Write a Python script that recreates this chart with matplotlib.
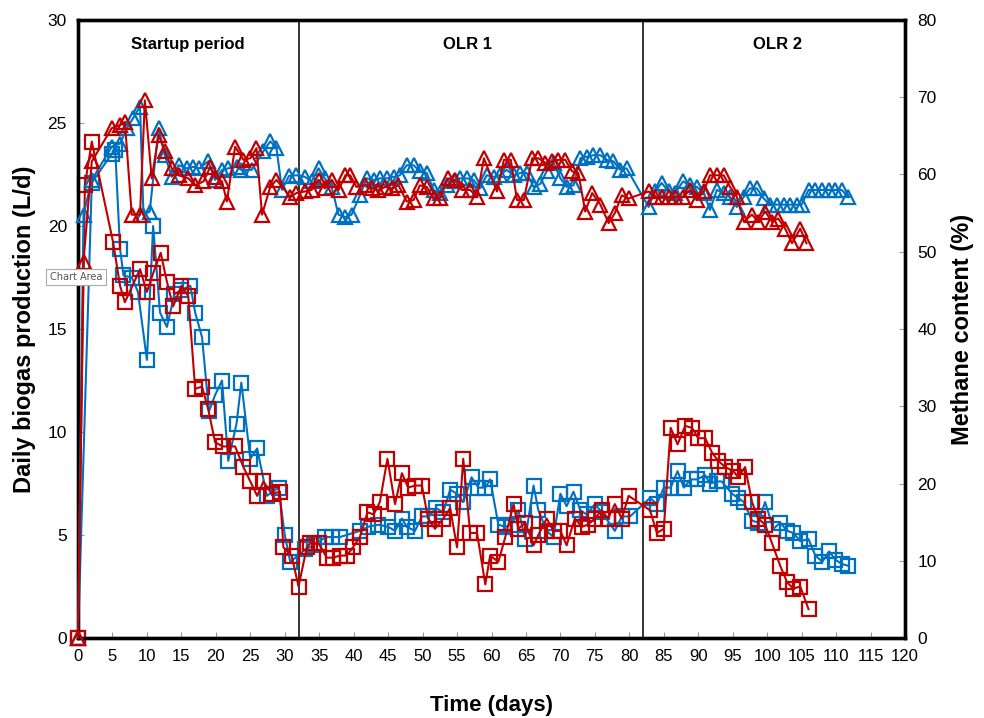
import matplotlib
matplotlib.use("Agg")
import matplotlib.pyplot as plt

plt.rcParams['font.family'] = ['Liberation Sans', 'DejaVu Sans']

# ---------------- data ----------------
# Biogas (L/d), reactor A (blue squares)
bio_a_day = [0, 2, 4.9, 5.4, 6.1, 6.6, 7.8, 8.7, 10, 10.9, 11.9, 12.9, 14, 15, 16.3, 17, 18, 19, 19.9, 20.9,
             21.8, 23, 23.7, 25, 26, 27.4, 29.1, 30, 30.8, 33, 34.2, 35.9, 36.8, 38, 40.9, 42.1, 43.6, 45, 46,
             47, 47.7, 48.9, 49.9, 50.8, 52, 53, 54, 55, 55.9, 57.1, 58.1, 59.1, 59.8, 61, 62, 62.9, 63.9,
             64.9, 66.1, 66.8, 68, 69, 70, 70.9, 71.9, 72.9, 73.8, 75, 76, 77.9, 78.9, 80.1, 83, 84, 85, 86,
             87, 87.9, 88.9, 89.8, 91, 91.7, 92.7, 93.4, 94.9, 95.8, 96.6, 97.8, 98.7, 99.7, 100.9, 101.9,
             102.9, 103.8, 104.8, 106, 107, 108, 109, 109.9, 110.8, 111.8]
bio_a = [0, 22.1, 23.5, 23.7, 18.9, 17.6, 17.5, 16.8, 13.5, 20.0, 15.8, 15.1, 16.7, 16.9, 17.1, 15.8, 14.6, 11.0, 11.8, 12.5,
         8.6, 10.4, 12.4, 8.7, 9.2, 6.9, 7.3, 5.0, 3.7, 4.3, 4.5, 4.9, 4.9, 4.9, 5.2, 5.4, 5.5, 5.4, 5.2,
         5.8, 5.4, 5.2, 5.9, 5.9, 6.3, 6.1, 7.2, 7.0, 6.6, 7.8, 7.3, 7.3, 7.7, 5.5, 5.4, 5.5, 6.2,
         4.8, 7.4, 6.2, 5.2, 4.9, 7.0, 6.4, 7.1, 6.2, 6.0, 6.5, 6.1, 5.2, 5.9, 5.9, 6.8, 6.5, 7.3, 7.3,
         8.1, 7.3, 7.7, 7.7, 7.9, 7.5, 7.6, 7.6, 7.0, 6.8, 6.6, 5.7, 5.6, 6.6, 5.3, 5.6,
         5.2, 5.1, 4.7, 4.8, 4.0, 3.7, 4.2, 3.8, 3.6, 3.5]

# Biogas (L/d), reactor B (red squares)
bio_b_day = [0, 1, 2, 5.1, 6.1, 6.8, 9, 10, 10.9, 12, 12.9, 13.8, 15, 16, 17, 18, 18.9, 19.9, 21, 22.8,
             24, 25, 26, 26.9, 28.1, 29.3, 29.8, 31, 32, 33.2, 33.7, 34.9, 36.1, 37, 38, 39, 39.9, 40.9,
             42, 42.9, 43.8, 44.9, 46, 47, 47.9, 48.9, 49.9, 50.8, 51.8, 53, 54, 55, 55.9, 56.9, 57.9,
             59.1, 59.8, 61, 62, 63.2, 63.9, 64.9, 66.1, 66.8, 68, 69, 70, 70.9, 72.1, 73.1, 74, 75, 76,
             76.9, 77.9, 78.9, 79.9, 83, 84, 85, 86, 87, 88.1, 89.1, 90, 91, 92, 92.9, 93.9, 95.1, 95.8,
             96.8, 97.8, 98.7, 99.7, 100.7, 101.9, 102.9, 103.8, 104.8, 106]
bio_b = [0, 22.0, 24.1, 19.2, 17.1, 16.3, 17.9, 16.8, 17.7, 18.7, 17.3, 16.1, 17.1, 16.6, 12.1, 12.2, 11.1, 9.5, 9.3, 9.3,
         8.3, 7.6, 6.9, 7.6, 7.0, 7.1, 4.4, 4.0, 2.5, 4.4, 4.6, 4.6, 3.9, 3.9, 4.0, 4.0, 4.4, 4.9,
         6.1, 6.0, 6.6, 8.7, 6.5, 8.0, 7.3, 7.4, 7.4, 5.8, 5.3, 5.8, 6.3, 4.4, 8.7, 5.1, 5.1,
         2.6, 4.0, 3.7, 4.9, 6.5, 5.3, 5.6, 4.5, 5.0, 5.8, 5.2, 5.2, 4.5, 5.8, 5.4, 5.5, 5.8, 6.2,
         5.8, 6.5, 5.8, 6.9, 6.2, 5.1, 5.3, 10.2, 9.4, 10.3, 10.2, 9.7, 9.7, 9.0, 8.6, 8.3, 8.1, 7.8,
         8.3, 6.6, 5.8, 5.5, 4.6, 3.5, 2.7, 2.4, 2.5, 1.4]

# Methane content (%), reactor A (blue triangles)
ch4_a_day = [0, 0.8, 2, 4.9, 6.1, 7.1, 8, 9, 9.5, 10.4, 11.7, 12.6, 13.6, 14.6, 15.8, 16.7, 17.6, 18.9, 19.9,
             20.9, 21.8, 23, 23.7, 25.2, 26.9, 27.9, 28.8, 29.6, 30.6, 31.7, 32.9, 33.9, 34.9, 35.8, 36.8,
             37.8, 38.8, 39.7, 40.9, 41.9, 42.9, 43.8, 44.8, 45.8, 46.7, 47.7, 48.7, 49.6, 50.6, 51.6,
             52.5, 53.5, 54.5, 55.4, 56.4, 57.4, 58.3, 59.3, 60.3, 61.2, 62.2, 63.2, 64.2, 65.1, 66.1,
             67.1, 68, 69, 70, 70.9, 71.9, 72.9, 73.8, 74.8, 75.8, 76.7, 77.7, 78.7, 79.6, 82.8, 83.7,
             84.7, 85.7, 86.6, 87.8, 88.8, 89.8, 90.8, 91.7, 92.7, 93.7, 94.6, 95.6, 96.6, 97.5, 98.5,
             99.5, 100.4, 101.4, 102.4, 103.3, 104.3, 105, 106, 107, 107.9, 108.9, 109.9, 110.8, 111.8]
ch4_a = [0, 54.8, 59.3, 63.6, 64.0, 66.0, 67.3, 68.8, 54.8, 55.2, 66.0, 62.5, 59.7, 61.2, 60.8, 61.0, 60.8, 61.7, 59.3,
         60.6, 60.8, 61.0, 60.6, 60.6, 63.0, 64.3, 63.4, 58.0, 59.8, 59.9, 59.7, 59.1, 60.8, 59.5, 58.4,
         54.8, 54.5, 54.8, 57.3, 59.5, 59.3, 59.5, 59.5, 59.7, 59.9, 61.2, 61.2, 60.4, 60.2, 58.0,
         57.6, 58.6, 59.1, 59.5, 59.5, 59.3, 58.2, 59.9, 59.7, 59.9, 60.6, 59.9, 60.2, 60.2, 58.4,
         58.8, 60.4, 61.5, 59.5, 58.4, 58.6, 62.1, 62.3, 62.5, 62.5, 61.9, 61.7, 60.6, 60.8, 55.8, 57.8,
         58.9, 57.8, 57.6, 59.1, 58.6, 58.4, 57.6, 55.4, 58.0, 57.6, 57.1, 55.8, 57.1, 58.2, 58.2,
         56.9, 56.1, 56.1, 56.1, 56.1, 56.1, 56.1, 58.0, 58.0, 58.0, 58.0, 58.0, 58.0, 57.1]

# Methane content (%), reactor B (red triangles)
ch4_b_day = [0, 0.8, 2, 4.9, 6.1, 6.8, 7.8, 9, 9.7, 10.7, 11.7, 12.6, 13.6, 14.6, 16, 17, 18.2, 19.2, 19.9,
             20.9, 21.6, 22.8, 24, 25, 25.9, 26.7, 27.9, 28.8, 30.8, 31.7, 32.9, 33.9, 34.9, 35.8, 36.8,
             37.8, 38.8, 39.5, 40.4, 41.7, 42.6, 43.6, 44.6, 45.5, 46.5, 47.7, 48.7, 49.6, 50.6, 51.6,
             52.5, 53.7, 54.7, 55.7, 56.9, 57.9, 58.9, 60.8, 61.8, 62.8, 63.7, 64.7, 65.9, 66.8, 67.8,
             68.8, 69.7, 70.7, 71.7, 72.6, 73.6, 74.6, 75.8, 77, 77.9, 78.9, 79.9, 82.8, 83.7, 84.7,
             85.7, 86.6, 87.8, 88.8, 89.8, 90.8, 91.7, 92.7, 93.7, 94.6, 95.6, 96.6, 97.8, 98.7, 99.7,
             100.7, 101.6, 102.6, 103.6, 104.8, 105.7]
ch4_b = [0, 48.7, 61.7, 66.0, 66.4, 66.8, 54.8, 54.8, 69.6, 59.5, 65.1, 63.0, 60.8, 59.9, 59.5, 58.6, 59.1, 61.0, 59.7,
         59.1, 56.5, 63.6, 61.9, 62.1, 63.4, 54.8, 58.4, 59.3, 57.1, 57.6, 57.8, 58.0, 59.3, 58.2, 59.3,
         58.0, 59.9, 59.9, 58.4, 58.6, 58.2, 58.0, 58.4, 58.2, 58.6, 56.5, 56.7, 58.6, 58.4, 56.9,
         56.9, 59.5, 59.3, 58.0, 58.0, 57.1, 62.1, 57.8, 61.9, 61.9, 56.7, 56.7, 62.1, 62.1, 61.5,
         61.7, 61.9, 61.9, 60.4, 60.2, 55.2, 57.6, 56.1, 53.7, 55.0, 57.3, 56.9, 57.8, 57.1, 57.1,
         57.1, 57.1, 57.1, 58.0, 56.7, 57.8, 59.9, 59.9, 59.9, 58.4, 57.1, 53.9, 54.8, 53.9, 55.2,
         53.9, 54.3, 53.0, 51.1, 53.0, 51.1]

period_bounds = [32, 82]
period_labels = ["Startup period", "OLR 1", "OLR 2"]
period_label_x = [16, 56.5, 101.5]
x_ticks = list(range(0, 121, 5))
left_ticks = list(range(0, 31, 5))
right_ticks = list(range(0, 81, 10))

BLUE = '#0070C0'
RED = '#C00000'

# ---------------- figure ----------------
fig = plt.figure(figsize=(9.84, 7.18), dpi=100)
W, H = 984, 718
L, R, T, B = 78, 905, 20, 638
ax = fig.add_axes([L / W, 1 - B / H, (R - L) / W, (B - T) / H])
ax2 = ax.twinx()

sq = dict(marker='s', markersize=9.5, markerfacecolor='none', markeredgewidth=1.6, linewidth=1.5, clip_on=False)
tr = dict(marker='^', markersize=10.5, markerfacecolor='none', markeredgewidth=1.6, linewidth=1.5, clip_on=False)

ax.plot(bio_a_day, bio_a, color=BLUE, markeredgecolor=BLUE, zorder=3, **sq)
ax.plot(bio_b_day, bio_b, color=RED, markeredgecolor=RED, zorder=4, **sq)
ax2.plot(ch4_a_day, ch4_a, color=BLUE, markeredgecolor=BLUE, zorder=3, **tr)
ax2.plot(ch4_b_day, ch4_b, color=RED, markeredgecolor=RED, zorder=4, **tr)

for d in period_bounds:
    ax.axvline(d, color='black', linewidth=1.1, zorder=2)

for lbl, xp in zip(period_labels, period_label_x):
    ax.text(xp, 28.8, lbl, ha='center', va='center', fontsize=12, fontweight='bold')

ax.set_xlim(0, 120)
ax.set_ylim(0, 30)
ax2.set_ylim(0, 80)
ax.set_xticks(x_ticks)
ax.set_yticks(left_ticks)
ax2.set_yticks(right_ticks)

for a in (ax, ax2):
    for s in a.spines.values():
        s.set_linewidth(2.4)
        s.set_color('black')
ax.tick_params(axis='x', direction='in', length=4, width=0.8, color='#999999', labelsize=12, pad=8)
ax.tick_params(axis='y', direction='in', length=4, width=0.8, color='#999999', labelsize=12.5, pad=8)
ax2.tick_params(axis='y', direction='in', length=4, width=0.8, color='#999999', labelsize=12.5, pad=9)

ax.set_xlabel('Time (days)', fontsize=16, fontweight='bold', labelpad=22)
ax.set_ylabel('Daily biogas production (L/d)', fontsize=17, fontweight='bold', labelpad=8)
ax2.set_ylabel('Methane content (%)', fontsize=17, fontweight='bold', labelpad=10)

fig.text(76 / W, 1 - 277 / H, 'Chart Area', fontsize=7, color='#555555', ha='center', va='center',
         family=['DejaVu Sans'],
         bbox=dict(boxstyle='square,pad=0.35', fc='white', ec='#aaaaaa', lw=0.8), zorder=20)

fig.savefig('out.png', dpi=100)
